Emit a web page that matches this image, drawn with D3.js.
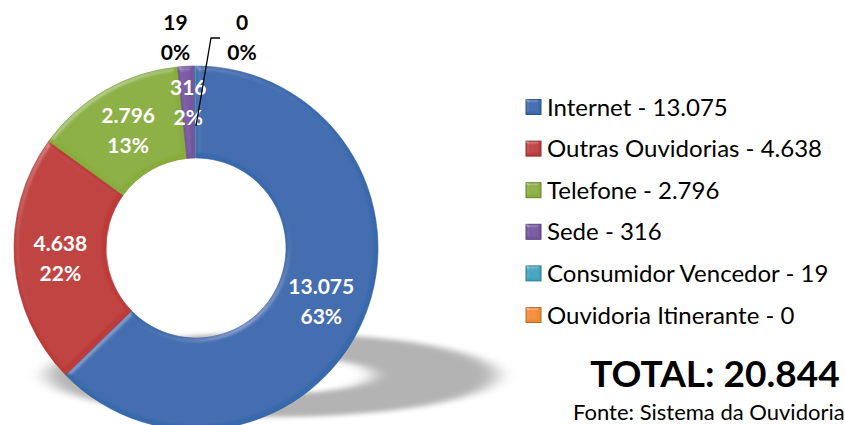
<!DOCTYPE html>
<html>
<head>
<meta charset="utf-8">
<script src="https://cdn.jsdelivr.net/npm/d3@7"></script>
<style>
  html, body { margin: 0; padding: 0; background: #fff; }
  svg { display: block; font-family: Lato, "Noto Sans", sans-serif; }
</style>
</head>
<body>
<div id="chart"></div>
<script>
const categories = ['Internet', 'Outras Ouvidorias', 'Telefone', 'Sede', 'Consumidor Vencedor', 'Ouvidoria Itinerante'];
const values = [13075, 4638, 2796, 316, 19, 0];
const colors = ['#3969ad', '#bd3a38', '#89ad3c', '#75559f', '#3ea3bd', '#f08a30'];
const totalLabel = 'TOTAL: ';
const sourceLabel = 'Fonte: Sistema da Ouvidoria';

const width = 845;
const height = 425;

const ptBR = d3.formatLocale({ decimal: ',', thousands: '.', grouping: [3], currency: ['R$', ''] });
const fmt = ptBR.format(',d');
const total = d3.sum(values);

const svg = d3.select('#chart')
    .append('svg')
    .attr('width', width)
    .attr('height', height);

const defs = svg.append('defs');

// soft bevel on the slices
function makeBevel(id, blur, scale, strength) {
    const f = defs.append('filter').attr('id', id)
        .attr('x', '-10%').attr('y', '-10%').attr('width', '120%').attr('height', '120%');
    f.append('feGaussianBlur').attr('in', 'SourceAlpha').attr('stdDeviation', blur).attr('result', 'blur');
    f.append('feSpecularLighting')
        .attr('in', 'blur').attr('surfaceScale', scale).attr('specularConstant', 0.5)
        .attr('specularExponent', 20).attr('lighting-color', '#ffffff').attr('result', 'spec')
        .append('feDistantLight').attr('azimuth', 235).attr('elevation', 35);
    f.append('feComposite').attr('in', 'spec').attr('in2', 'SourceAlpha').attr('operator', 'in').attr('result', 'specOut');
    f.append('feComposite').attr('in', 'SourceGraphic').attr('in2', 'specOut')
        .attr('operator', 'arithmetic').attr('k1', 0).attr('k2', 1).attr('k3', strength).attr('k4', 0);
}
makeBevel('bevel', 2.5, 2.5, 0.35);
makeBevel('bevelSmall', 1.5, 2, 0.5);

const soft = defs.append('filter').attr('id', 'soft')
    .attr('x', '-30%').attr('y', '-60%').attr('width', '160%').attr('height', '220%');
soft.append('feGaussianBlur').attr('stdDeviation', 9);

const cx = 196, cy = 248;
const outerR = 182, innerR = 90;

// floor shadow
const shadowArc = d3.arc().innerRadius(innerR).outerRadius(outerR * 1.1).startAngle(0).endAngle(2 * Math.PI);
svg.append('path')
    .attr('d', shadowArc())
    .attr('transform', `translate(272, 375) scale(1.12, 0.21)`)
    .attr('fill', '#9a9a9a')
    .attr('opacity', 0.75)
    .attr('filter', 'url(#soft)');

const pie = d3.pie().sort(null).value(d => d)(values);
const arc = d3.arc().innerRadius(innerR).outerRadius(outerR);

const g = svg.append('g').attr('transform', `translate(${cx}, ${cy})`);

g.selectAll('path.slice')
    .data(pie)
    .join('path')
    .attr('class', 'slice')
    .attr('d', arc)
    .attr('fill', (d, i) => colors[i])
    .attr('stroke', (d, i) => d3.color(colors[i]).darker(0.4))
    .attr('stroke-width', 0.6)
    .attr('filter', 'url(#bevel)');

// labels inside the ring
const pct = d => Math.round(d.value / total * 100) + '%';
const inside = pie.filter(d => d.value / total >= 0.01);
const smallArc = d3.arc().innerRadius(innerR + 10).outerRadius(outerR + 10);

const lab = g.selectAll('text.in')
    .data(inside)
    .join('text')
    .attr('class', 'in')
    .attr('text-anchor', 'middle')
    .attr('fill', '#fff')
    .attr('font-weight', 'bold')
    .attr('font-size', 21)
    .attr('transform', d => {
        const c = (d.value / total < 0.03 ? smallArc : arc).centroid(d);
        return `translate(${c[0]}, ${c[1]})`;
    });
lab.append('tspan').attr('x', 0).attr('y', -7).text(d => fmt(d.value));
lab.append('tspan').attr('x', 0).attr('y', 23).text(pct);

// tiny slices get labels outside, pushed apart
const outside = pie.filter(d => d.value / total < 0.01);
const labelArc = d3.arc().innerRadius(outerR + 29).outerRadius(outerR + 29);
const shift = [-20, 46];
const olab = g.selectAll('text.out')
    .data(outside)
    .join('text')
    .attr('class', 'out')
    .attr('text-anchor', 'middle')
    .attr('fill', '#000')
    .attr('font-weight', 'bold')
    .attr('font-size', 21)
    .attr('transform', (d, i) => { const c = labelArc.centroid(d); return `translate(${c[0] + shift[i]}, ${c[1]})`; });
olab.append('tspan').attr('x', 0).attr('y', -7).text(d => fmt(d.value));
olab.append('tspan').attr('x', 0).attr('y', 23).text(pct);

// leader line for the last label
const last = outside[outside.length - 1];
const tip = d3.arc().innerRadius(innerR + 32).outerRadius(innerR + 32).centroid(last);
const lc = labelArc.centroid(last);
g.append('path')
    .attr('d', d3.line()([[lc[0] + shift[1] - 22, lc[1] + 1], [lc[0] + shift[1] - 31, lc[1] + 1], tip]))
    .attr('fill', 'none')
    .attr('stroke', '#000')
    .attr('stroke-width', 1.3);

// legend
const legend = svg.append('g').attr('transform', 'translate(526, 107)');
const rows = legend.selectAll('g')
    .data(categories)
    .join('g')
    .attr('transform', (d, i) => `translate(0, ${i * 41.6})`);
rows.append('rect')
    .attr('x', 0).attr('y', -7.5).attr('width', 15).attr('height', 15)
    .attr('fill', (d, i) => colors[i])
    .attr('stroke', (d, i) => d3.color(colors[i]).darker(0.8))
    .attr('stroke-width', 1)
    .attr('filter', 'url(#bevelSmall)');
rows.append('text')
    .attr('x', 21).attr('dy', '0.36em')
    .attr('font-size', 24)
    .attr('fill', '#000')
    .text((d, i) => `${d} - ${fmt(values[i])}`);

svg.append('text')
    .attr('x', 715).attr('y', 387)
    .attr('text-anchor', 'middle')
    .attr('font-weight', 'bold')
    .attr('font-size', 37)
    .text(totalLabel + fmt(total));

svg.append('text')
    .attr('x', 573).attr('y', 420)
    .attr('font-size', 22)
    .text(sourceLabel);
</script>
</body>
</html>
